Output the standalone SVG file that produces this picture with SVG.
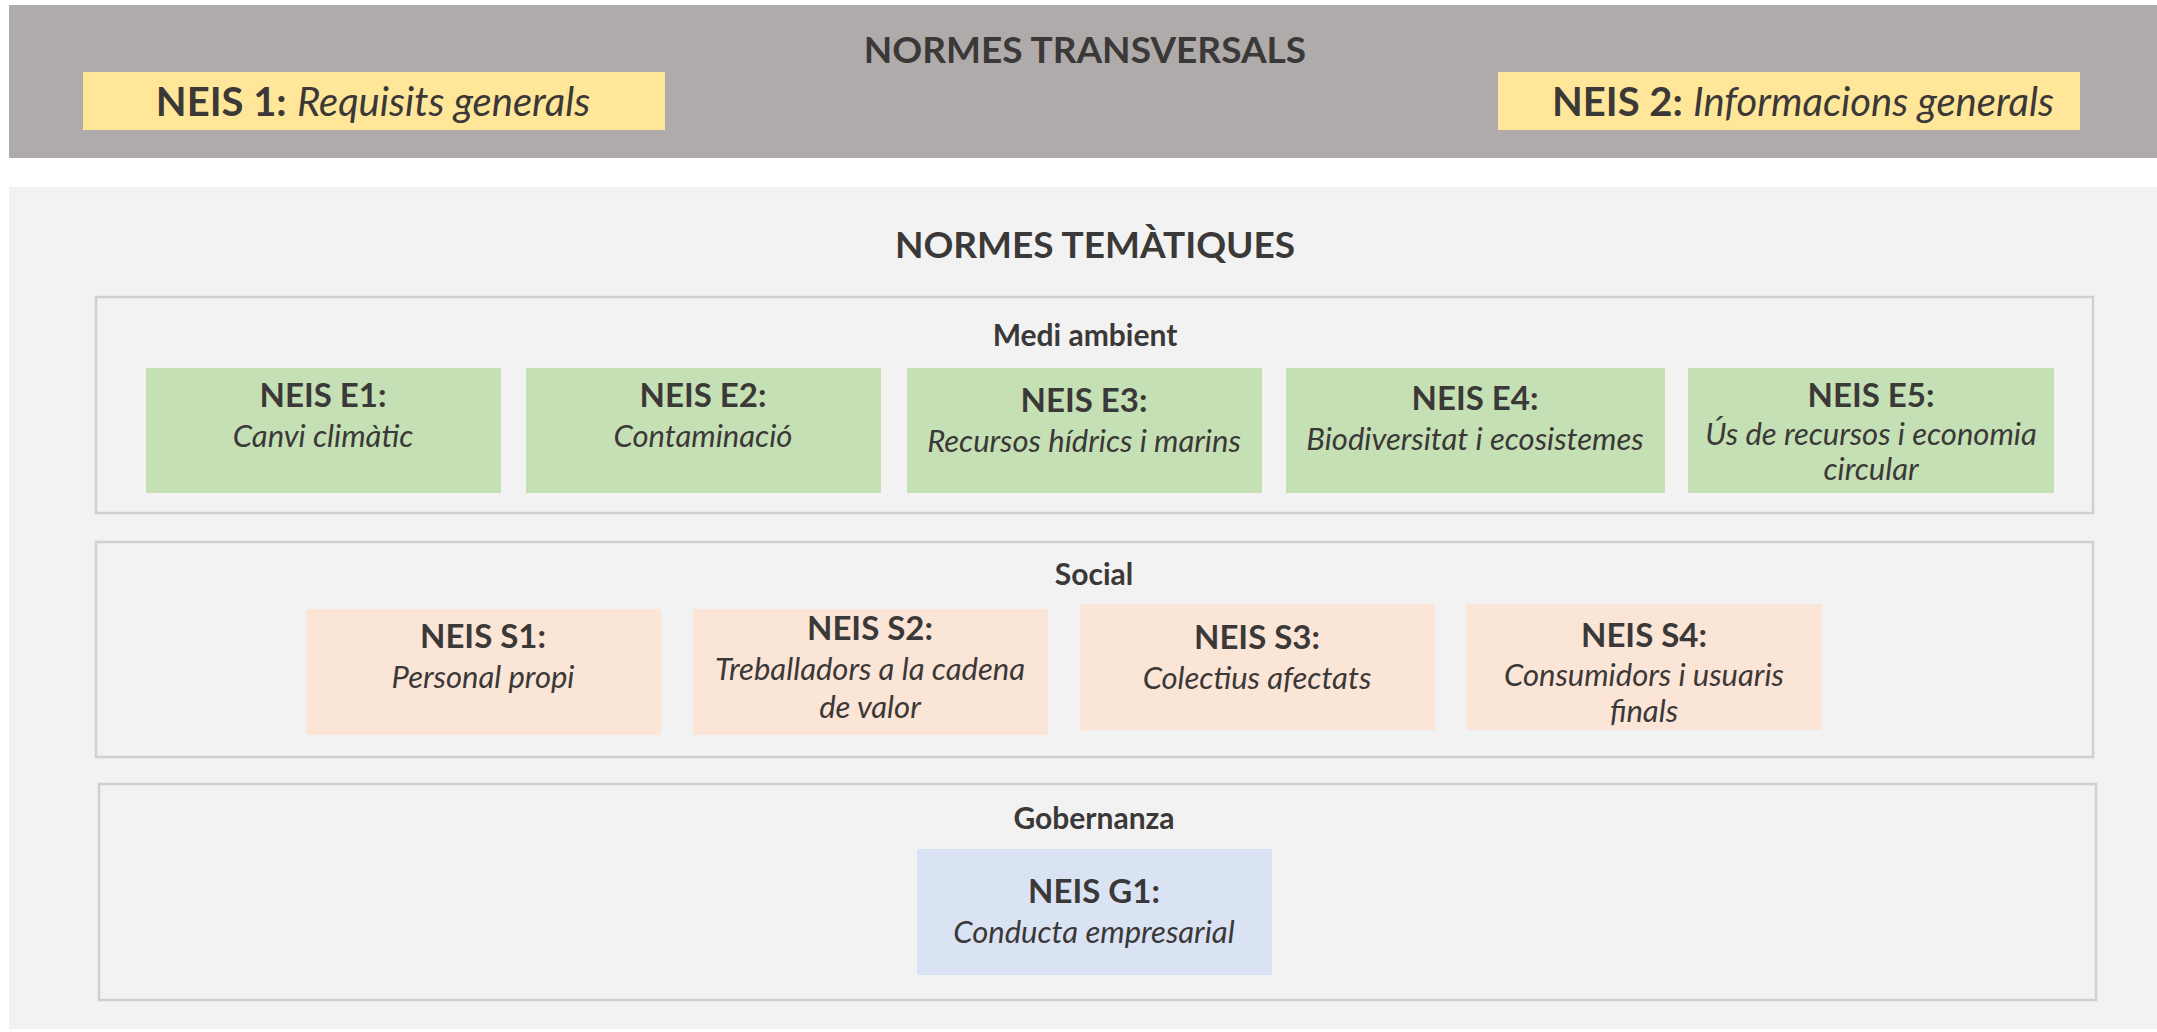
<svg xmlns="http://www.w3.org/2000/svg" width="2157" height="1032" viewBox="0 0 2157 1032">
<style>
text{font-family:Lato,"Open Sans","Liberation Sans",sans-serif;fill:#3B3838;text-anchor:middle}
.title{font-size:37px;font-weight:bold}
.grp{font-size:30px;font-weight:bold}
.hd{font-size:33px;font-weight:bold}
.sub{font-size:31px;font-style:italic}
.top{font-size:40px}
.b{font-weight:bold;font-style:normal}
.it{font-style:italic}
.frame{fill:#F2F2F2;stroke:#D0D0D0;stroke-width:2.5}
.env{fill:#C5E0B4}
.soc{fill:#FBE5D6}
.gov{fill:#DAE3F3}
.yel{fill:#FFE699}
</style>
<rect width="2157" height="1032" fill="#FFFFFF"/>
<g id="transversals">
<rect x="9" y="5" width="2148" height="153" fill="#AFABAB"/>
<text class="title" x="1085" y="63">NORMES TRANSVERSALS</text>
</g>
<g id="neis1">
<rect class="yel" x="83" y="72" width="582" height="58"/>
<text class="top" x="373" y="116"><tspan class="b">NEIS 1:</tspan> <tspan class="it">Requisits generals</tspan></text>
</g>
<g id="neis2">
<rect class="yel" x="1498" y="72" width="582" height="58"/>
<text class="top" x="1803" y="116"><tspan class="b">NEIS 2:</tspan> <tspan class="it">Informacions generals</tspan></text>
</g>
<g id="tematiques">
<rect x="9" y="187" width="2148" height="842" fill="#F2F2F2"/>
<text class="title" x="1095" y="258">NORMES TEMÀTIQUES</text>
</g>
<g id="medi-ambient">
<rect class="frame" x="96" y="297" width="1997" height="216"/>
<text class="grp" x="1085" y="346">Medi ambient</text>
</g>
<g id="e1">
<rect class="env" x="146" y="368" width="355" height="125"/>
<text class="hd" x="323" y="407">NEIS E1:</text>
<text class="sub" x="323" y="447">Canvi climàtic</text>
</g>
<g id="e2">
<rect class="env" x="526" y="368" width="355" height="125"/>
<text class="hd" x="703" y="407">NEIS E2:</text>
<text class="sub" x="703" y="447">Contaminació</text>
</g>
<g id="e3">
<rect class="env" x="907" y="368" width="355" height="125"/>
<text class="hd" x="1084" y="412">NEIS E3:</text>
<text class="sub" x="1084" y="452">Recursos hídrics i marins</text>
</g>
<g id="e4">
<rect class="env" x="1286" y="368" width="379" height="125"/>
<text class="hd" x="1475" y="410">NEIS E4:</text>
<text class="sub" x="1475" y="450">Biodiversitat i ecosistemes</text>
</g>
<g id="e5">
<rect class="env" x="1688" y="368" width="366" height="125"/>
<text class="hd" x="1871" y="407">NEIS E5:</text>
<text class="sub" x="1871" y="445">Ús de recursos i economia</text>
<text class="sub" x="1871" y="480">circular</text>
</g>
<g id="social">
<rect class="frame" x="96" y="542" width="1997" height="215"/>
<text class="grp" x="1094" y="585">Social</text>
</g>
<g id="s1">
<rect class="soc" x="306" y="609" width="355" height="126"/>
<text class="hd" x="483" y="648">NEIS S1:</text>
<text class="sub" x="483" y="688">Personal propi</text>
</g>
<g id="s2">
<rect class="soc" x="693" y="609" width="355" height="126"/>
<text class="hd" x="870" y="640">NEIS S2:</text>
<text class="sub" x="870" y="680">Treballadors a la cadena</text>
<text class="sub" x="870" y="718">de valor</text>
</g>
<g id="s3">
<rect class="soc" x="1080" y="604" width="355" height="126"/>
<text class="hd" x="1257" y="649">NEIS S3:</text>
<text class="sub" x="1257" y="689">Colectius afectats</text>
</g>
<g id="s4">
<rect class="soc" x="1467" y="604" width="355" height="126"/>
<text class="hd" x="1644" y="647">NEIS S4:</text>
<text class="sub" x="1644" y="686">Consumidors i usuaris</text>
<text class="sub" x="1644" y="722">finals</text>
</g>
<g id="gobernanza">
<rect class="frame" x="99" y="784" width="1997" height="216"/>
<text class="grp" x="1094" y="829">Gobernanza</text>
</g>
<g id="g1">
<rect class="gov" x="917" y="849" width="355" height="126"/>
<text class="hd" x="1094" y="903">NEIS G1:</text>
<text class="sub" x="1094" y="943">Conducta empresarial</text>
</g>
<g id="connectors"></g>
</svg>
